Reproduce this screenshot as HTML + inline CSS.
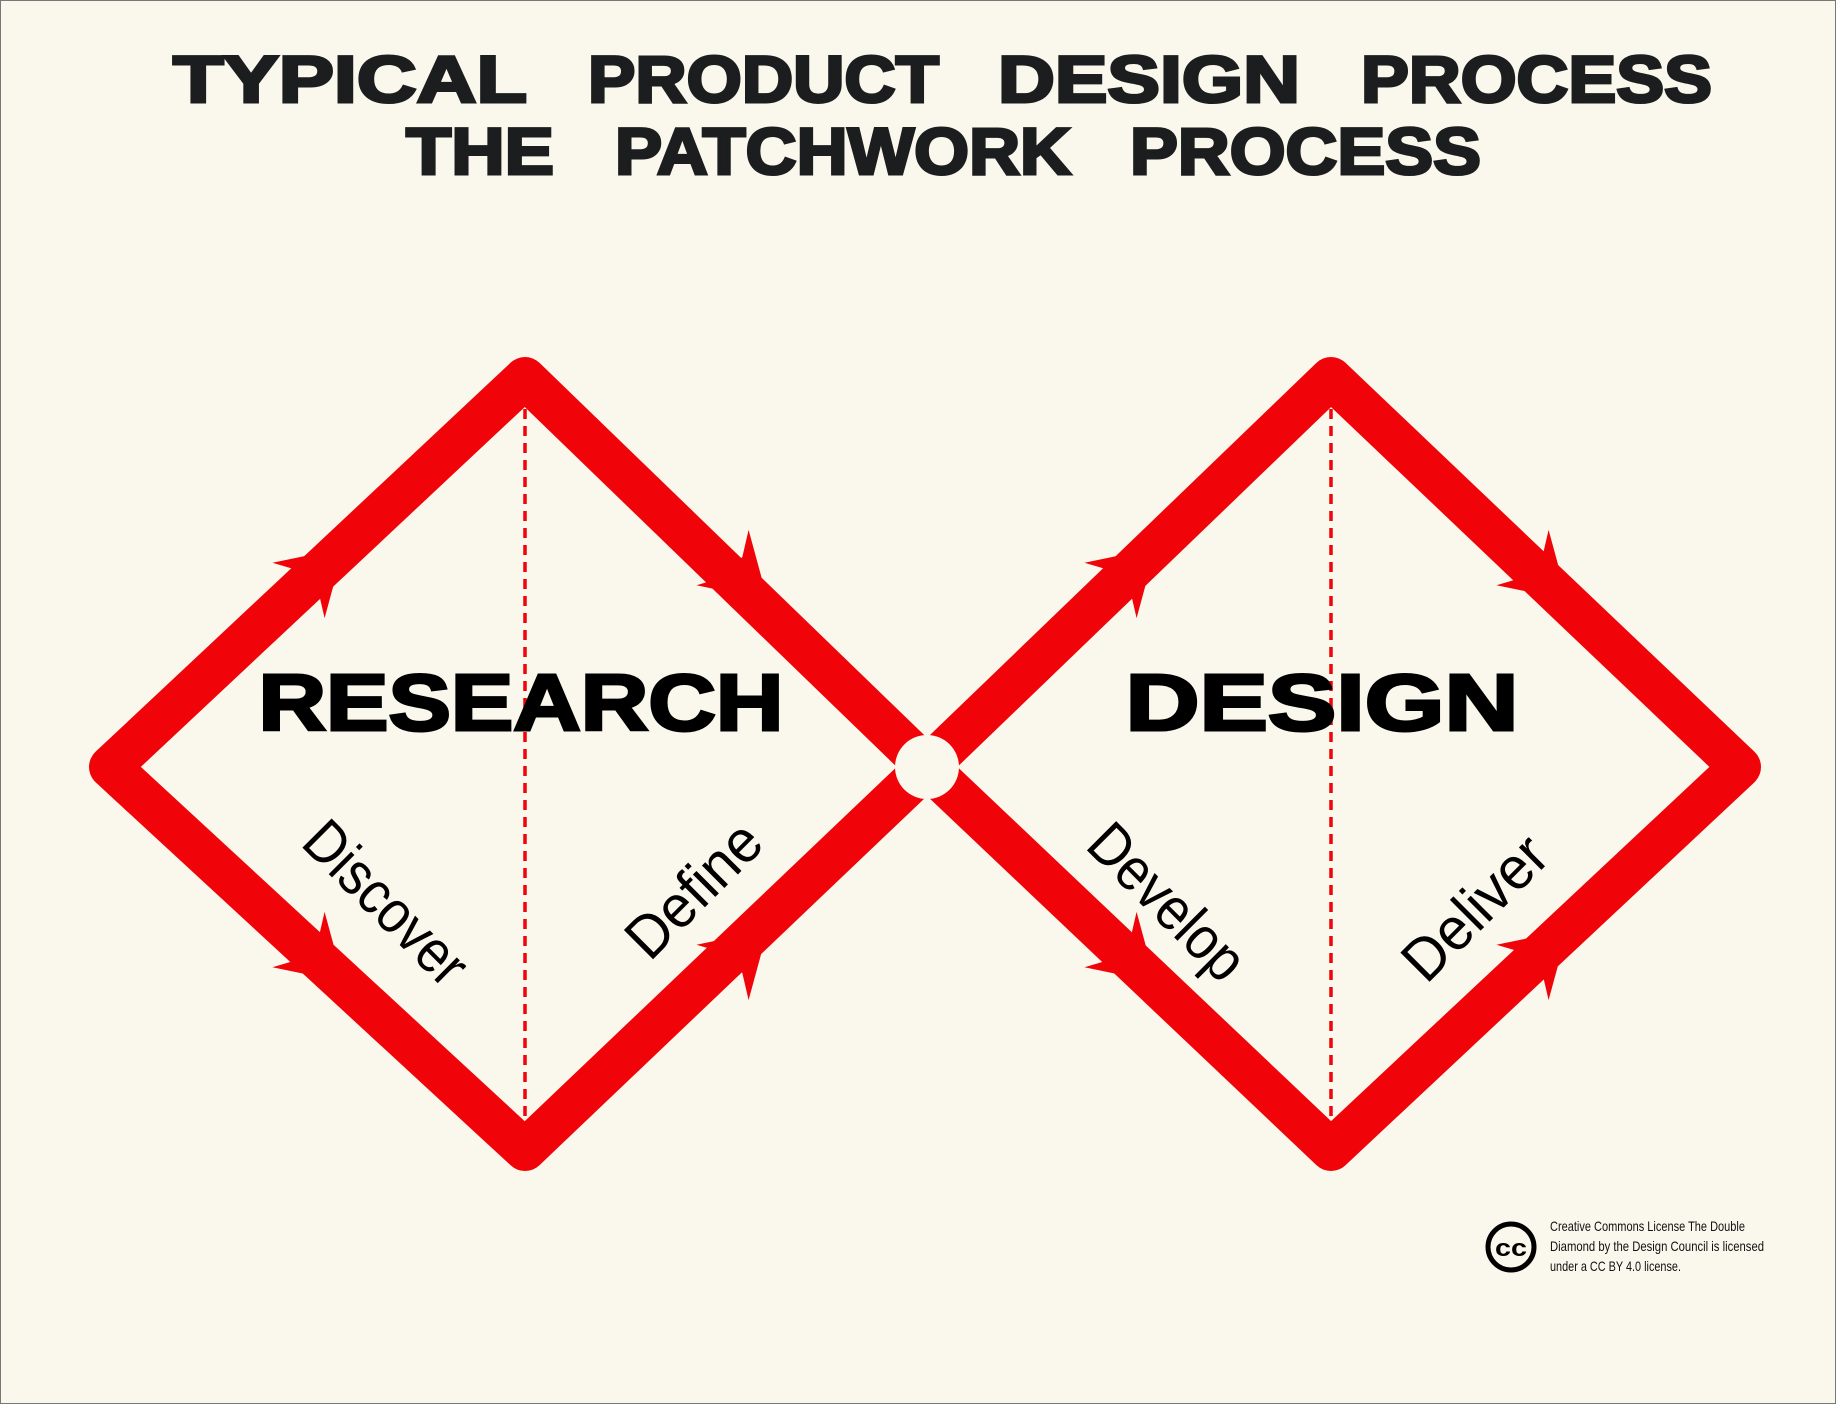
<!DOCTYPE html>
<html><head><meta charset="utf-8"><style>
html,body{margin:0;padding:0;background:#faf7ec;}
svg{display:block}
</style></head><body>
<svg width="1836" height="1404" viewBox="0 0 1836 1404" xmlns="http://www.w3.org/2000/svg">
<rect x="0.5" y="0.5" width="1835" height="1403" fill="#faf7ec" stroke="#777" stroke-width="1"/>
<g font-family="'Liberation Sans', sans-serif" font-weight="900" fill="#1b1d1f" stroke="#1b1d1f" stroke-width="3" font-size="66">
<text x="173" y="102" textLength="354" lengthAdjust="spacingAndGlyphs">TYPICAL</text>
<text x="588" y="102" textLength="351" lengthAdjust="spacingAndGlyphs">PRODUCT</text>
<text x="998" y="102" textLength="302" lengthAdjust="spacingAndGlyphs">DESIGN</text>
<text x="1361" y="102" textLength="351" lengthAdjust="spacingAndGlyphs">PROCESS</text>
<text x="406" y="174" textLength="148" lengthAdjust="spacingAndGlyphs">THE</text>
<text x="615" y="174" textLength="456" lengthAdjust="spacingAndGlyphs">PATCHWORK</text>
<text x="1130" y="174" textLength="351" lengthAdjust="spacingAndGlyphs">PROCESS</text>
</g>
<g stroke="#f0040a" stroke-width="3.5" stroke-dasharray="10,7" fill="none">
<line x1="525" y1="392" x2="525" y2="1140"/>
<line x1="1331" y1="392" x2="1331" y2="1140"/>
</g>
<g fill="none" stroke="#f0040a" stroke-width="42" stroke-linejoin="round">
<path d="M927 767 L525 378 L110 767 L525 1150 L927 767"/>
<path d="M927 767 L1331 378 L1740 767 L1331 1150 L927 767"/>
</g>
<g fill="#f0040a">
<polygon points="96,767 125,737 125,797"/>
<polygon points="1757,767 1725,737 1725,797"/>
</g>
<circle cx="927" cy="767" r="32" fill="#faf7ec"/>
<defs>
<polygon id="ah" points="38,0 -24,-38 -10,-14 -10,14 -24,38"/>
</defs>
<g fill="#f0040a">
<use href="#ah" transform="translate(316,574) rotate(-43.3)"/>
<use href="#ah" transform="translate(740,574) rotate(43.3)"/>
<use href="#ah" transform="translate(316,956) rotate(43.3)"/>
<use href="#ah" transform="translate(740,956) rotate(-43.3)"/>
<use href="#ah" transform="translate(1128,574) rotate(-43.3)"/>
<use href="#ah" transform="translate(1540,574) rotate(43.3)"/>
<use href="#ah" transform="translate(1128,956) rotate(43.3)"/>
<use href="#ah" transform="translate(1540,956) rotate(-43.3)"/>
</g>
<g font-family="'Liberation Sans', sans-serif" font-weight="900" fill="#000" stroke="#000" stroke-width="3">
<text x="521" y="730" font-size="80" text-anchor="middle" textLength="525" lengthAdjust="spacingAndGlyphs">RESEARCH</text>
<text x="1322" y="730" font-size="80" text-anchor="middle" textLength="393" lengthAdjust="spacingAndGlyphs">DESIGN</text>
</g>
<g font-family="'Liberation Sans Narrow','Liberation Sans', sans-serif" font-size="60" fill="#000" text-anchor="middle">
<text transform="translate(386,903) rotate(45)" x="0" y="20" textLength="205" lengthAdjust="spacingAndGlyphs">Discover</text>
<text transform="translate(694,890) rotate(-45)" x="0" y="20" textLength="165" lengthAdjust="spacingAndGlyphs">Define</text>
<text transform="translate(1167,902) rotate(45)" x="0" y="20" textLength="195" lengthAdjust="spacingAndGlyphs">Develop</text>
<text transform="translate(1475,908) rotate(-45)" x="0" y="20" textLength="178" lengthAdjust="spacingAndGlyphs">Deliver</text>
</g>
<circle cx="1511" cy="1247" r="23" fill="none" stroke="#000" stroke-width="5"/>
<text x="1511" y="1256" font-family="'Liberation Sans', sans-serif" font-weight="bold" font-size="24" text-anchor="middle" fill="#000" textLength="32" lengthAdjust="spacingAndGlyphs">cc</text>
<g font-family="'Liberation Sans Narrow','Liberation Sans', sans-serif" font-size="14" fill="#111">
<text x="1550" y="1231" textLength="195" lengthAdjust="spacingAndGlyphs">Creative Commons License The Double</text>
<text x="1550" y="1251" textLength="214" lengthAdjust="spacingAndGlyphs">Diamond by the Design Council is licensed</text>
<text x="1550" y="1271" textLength="131" lengthAdjust="spacingAndGlyphs">under a CC BY 4.0 license.</text>
</g>
</svg>
</body></html>
